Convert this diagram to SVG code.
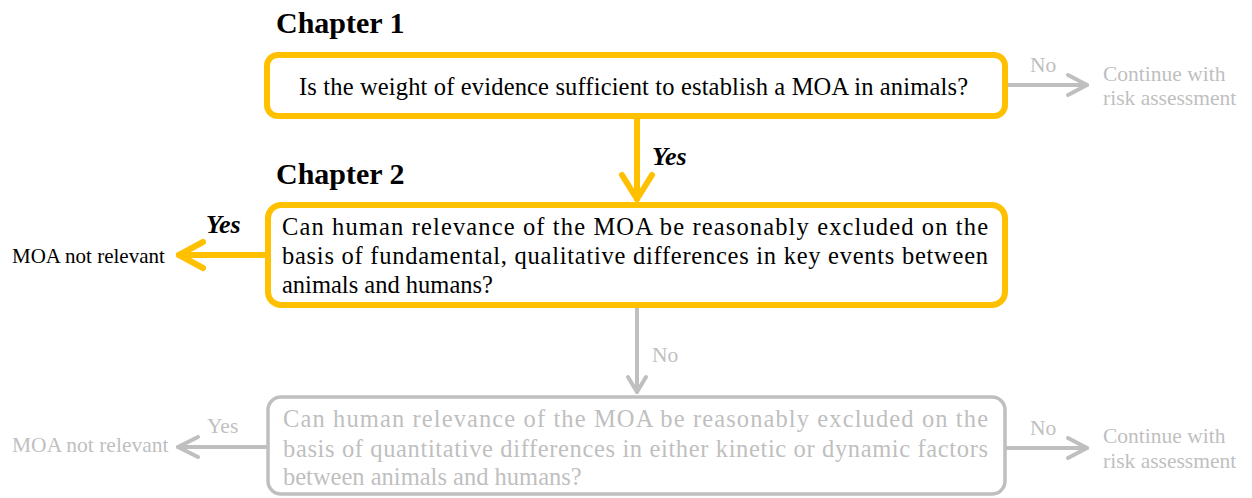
<svg xmlns="http://www.w3.org/2000/svg" width="1252" height="498" viewBox="0 0 1252 498">
<style>
text{font-family:"Liberation Serif","Times New Roman",serif}
.chap{font-size:30px;font-weight:bold;fill:#000}
.q{font-size:24.5px;fill:#000}
.qg{font-size:24.5px;fill:#BFBFBF}
.lbl{font-size:21px;fill:#000}
.lblg{font-size:21.5px;fill:#BFBFBF}
.yes{font-size:26px;font-weight:bold;font-style:italic;fill:#000}
.box{fill:#fff;stroke:#FFC000;stroke-width:6}
.boxg{fill:#fff;stroke:#BFBFBF;stroke-width:3.5}
.co{fill:none;stroke:#FFC000;stroke-width:6;stroke-linecap:round;stroke-linejoin:round}
.cg{fill:none;stroke:#BFBFBF;stroke-width:4;stroke-linecap:round;stroke-linejoin:round}
</style>
<rect width="1252" height="498" fill="#fff"/>
<g id="connectors">
<line class="co" x1="637" y1="118" x2="637" y2="199"/>
<polyline class="co" points="622,175 637,199 652,175"/>
<line class="co" x1="179" y1="255" x2="264" y2="255"/>
<polyline class="co" points="203,242 179,255 203,268"/>
<line class="cg" x1="637" y1="308" x2="637" y2="392"/>
<polyline class="cg" points="628,377 637,392 646,377"/>
<line class="cg" x1="178" y1="447" x2="266" y2="447"/>
<polyline class="cg" points="198,437 178,447 198,457"/>
<line class="cg" x1="1008" y1="85" x2="1087" y2="85"/>
<polyline class="cg" points="1068,75 1087,85 1068,95"/>
<line class="cg" x1="1007" y1="448" x2="1087" y2="448"/>
<polyline class="cg" points="1068,438 1087,448 1068,458"/>
<text class="yes" x="652" y="165">Yes</text>
<text class="yes" x="206" y="233">Yes</text>
<text class="lblg" x="652" y="362">No</text>
<text class="lblg" x="207" y="433">Yes</text>
<text class="lblg" x="1030" y="72">No</text>
<text class="lblg" x="1030" y="435">No</text>
</g>
<g id="chapter1"><text class="chap" x="276" y="33">Chapter 1</text></g>
<g id="chapter2"><text class="chap" x="276" y="184">Chapter 2</text></g>
<g id="node1">
<rect class="box" x="267" y="55" width="738" height="61" rx="11"/>
<text class="q" x="299" y="95" textLength="669" lengthAdjust="spacing">Is the weight of evidence sufficient to establish a MOA in animals?</text>
</g>
<g id="node2">
<rect class="box" x="268" y="205" width="737" height="100" rx="13"/>
<text class="q" x="282" y="235" textLength="706" lengthAdjust="spacing">Can human relevance of the MOA be reasonably excluded on the</text>
<text class="q" x="282" y="264" textLength="706" lengthAdjust="spacing">basis of fundamental, qualitative differences in key events between</text>
<text class="q" x="282" y="293">animals and humans?</text>
</g>
<g id="node3">
<rect class="boxg" x="268" y="397" width="737" height="97" rx="13"/>
<text class="qg" x="283" y="427" textLength="705" lengthAdjust="spacing">Can human relevance of the MOA be reasonably excluded on the</text>
<text class="qg" x="283" y="457" textLength="705" lengthAdjust="spacing">basis of quantitative differences in either kinetic or dynamic factors</text>
<text class="qg" x="283" y="485">between animals and humans?</text>
</g>
<g id="notrelevant1"><text class="lbl" x="12" y="263">MOA not relevant</text></g>
<g id="notrelevant2"><text class="lblg" x="12" y="452">MOA not relevant</text></g>
<g id="continue1"><text class="lblg" x="1103" y="81">Continue with</text><text class="lblg" x="1103" y="105">risk assessment</text></g>
<g id="continue2"><text class="lblg" x="1103" y="443">Continue with</text><text class="lblg" x="1103" y="468">risk assessment</text></g>
</svg>
